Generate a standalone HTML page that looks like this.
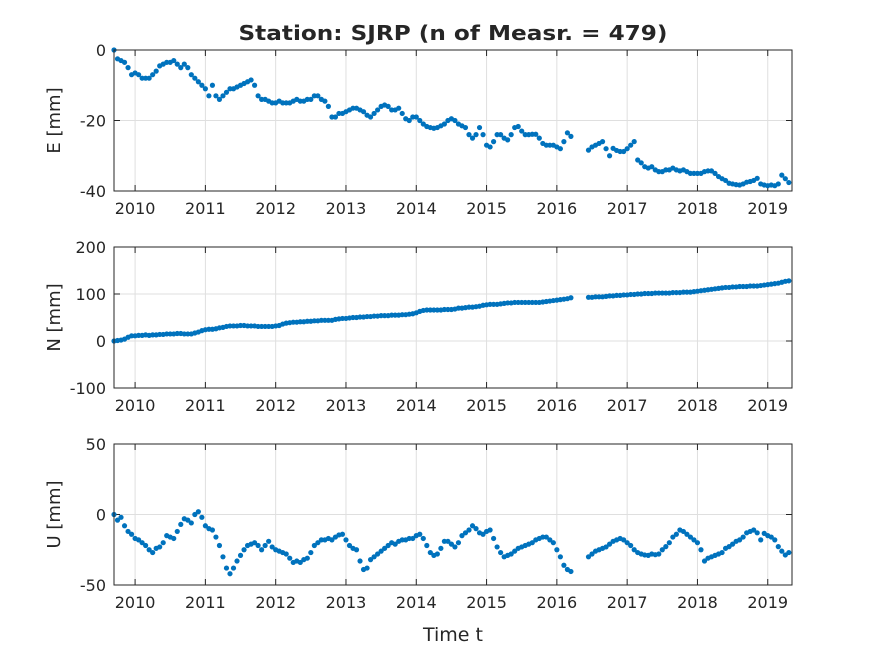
<!DOCTYPE html>
<html><head><meta charset="utf-8"><style>
body{margin:0;background:#fff}
svg text{font-family:"DejaVu Sans","Liberation Sans",sans-serif;fill:#262626}
</style></head><body>
<svg id="c" width="875" height="656" xmlns="http://www.w3.org/2000/svg">
<rect width="875" height="656" fill="#fff"/>
<text x="453" y="40" text-anchor="middle" font-size="20" font-weight="bold" fill="#000" textLength="429" lengthAdjust="spacingAndGlyphs">Station: SJRP (n of Measr. = 479)</text>
<text x="453" y="641" text-anchor="middle" font-size="19">Time t</text>
</svg>
<script>
const t1 = [2009.70,2009.75,2009.80,2009.85,2009.90,2009.95,2010.00,2010.05,2010.10,2010.15,
2010.20,2010.25,2010.30,2010.35,2010.40,2010.45,2010.50,2010.55,2010.60,2010.65,
2010.70,2010.75,2010.80,2010.85,2010.90,2010.95,2011.00,2011.05,2011.10,2011.15,
2011.20,2011.25,2011.30,2011.35,2011.40,2011.45,2011.50,2011.55,2011.60,2011.65,
2011.70,2011.75,2011.80,2011.85,2011.90,2011.95,2012.00,2012.05,2012.10,2012.15,
2012.20,2012.25,2012.30,2012.35,2012.40,2012.45,2012.50,2012.55,2012.60,2012.65,
2012.70,2012.75,2012.80,2012.85,2012.90,2012.95,2013.00,2013.05,2013.10,2013.15,
2013.20,2013.25,2013.30,2013.35,2013.40,2013.45,2013.50,2013.55,2013.60,2013.65,
2013.70,2013.75,2013.80,2013.85,2013.90,2013.95,2014.00,2014.05,2014.10,2014.15,
2014.20,2014.25,2014.30,2014.35,2014.40,2014.45,2014.50,2014.55,2014.60,2014.65,
2014.70,2014.75,2014.80,2014.85,2014.90,2014.95,2015.00,2015.05,2015.10,2015.15,
2015.20,2015.25,2015.30,2015.35,2015.40,2015.45,2015.50,2015.55,2015.60,2015.65,
2015.70,2015.75,2015.80,2015.85,2015.90,2015.95,2016.00,2016.05,2016.10,2016.15,
2016.20,
2016.45,2016.50,2016.55,2016.60,2016.65,2016.70,2016.75,2016.80,2016.85,2016.90,
2016.95,2017.00,2017.05,2017.10,2017.15,2017.20,2017.25,2017.30,2017.35,2017.40,
2017.45,2017.50,2017.55,2017.60,2017.65,2017.70,2017.75,2017.80,2017.85,2017.90,
2017.95,2018.00,2018.05,2018.10,2018.15,2018.20,2018.25,2018.30,2018.35,2018.40,
2018.45,2018.50,2018.55,2018.60,2018.65,2018.70,2018.75,2018.80,2018.85,2018.90,
2018.95,2019.00,2019.05,2019.10,2019.15,2019.20,2019.25,2019.30];
const eVals = [0,-2.5,-3,-3.5,-5,-7,-6.5,-7,-8,-8,
-8,-7,-6,-4.5,-4,-3.5,-3.5,-3,-4,-5,
-4,-5,-7,-8,-9,-10,-11,-13,-10,-13,
-14,-13,-12,-11,-11,-10.5,-10,-9.5,-9,-8.5,
-10,-13,-14,-14,-14.5,-15,-15,-14.5,-15,-15,
-15,-14.5,-14,-14.5,-14.5,-14,-14,-13,-13,-14,
-14.5,-16,-19,-19,-18,-18,-17.5,-17,-16.5,-16.5,
-17,-17.5,-18.5,-19,-18,-17,-16,-15.6,-16,-17,
-17,-16.5,-18,-19.5,-20,-19,-19,-20,-21,-21.7,
-22,-22.2,-22,-21.5,-21,-20,-19.5,-20,-21,-21.5,
-22,-24,-25,-24,-22,-24,-27,-27.5,-26,-24,
-24,-25,-25.5,-24,-22,-21.7,-23,-24,-24,-23.9,
-23.9,-25,-26.5,-27,-27,-27,-27.5,-28,-26,-23.5,
-24.5,
-28.4,-27.5,-27,-26.5,-26,-28,-30,-27.9,-28.5,-28.8,
-28.8,-28,-27,-26,-31.2,-32,-33.1,-33.5,-33.1,-34,
-34.5,-34.5,-34,-34,-33.5,-34,-34.3,-34,-34.5,-35,
-35,-35,-35,-34.5,-34.3,-34.3,-35,-35.9,-36.5,-37,
-37.8,-38,-38.2,-38.3,-38,-37.5,-37.3,-37,-36.4,-38,
-38.3,-38.5,-38.3,-38.5,-38,-35.5,-36.5,-37.6];
const nVals = [0,1,2,4,8,11,11,12,12,13,
12,13,13,14,14,15,15,15,16,16,
15,15,15,17,19,22,24,25,25,26,
28,29,31,32,32,32,33,33,32,32,
32,31,31,31,31,31,32,33,36,38,
39,40,40,41,41,42,42,43,43,44,
44,44,44,46,47,48,48,49,50,50,
51,51,52,52,53,53,54,54,54,55,
55,55,56,56,57,58,60,63,65,66,
66,66,66,66,67,67,67,68,70,70,
71,72,72,73,74,76,77,78,78,78,
79,80,81,81,82,82,82,82,82,82,
82,82,83,84,85,86,87,88,89,90,
92,
93,93,94,94,94,95,96,96,97,97,
98,98,99,99,100,100,101,101,101,102,
102,102,102,102,103,103,103,104,104,104,
105,106,107,108,109,110,111,112,113,114,
114,115,115,116,116,116,117,117,117,118,
119,120,121,122,123,125,127,128];
const uVals = [0,-4,-2,-8,-12,-14,-17,-18,-20,-22,
-25,-27,-24,-23,-20,-15,-16,-17,-12,-7,
-3,-4,-6,0,2,-2,-8,-10,-11,-16,
-22,-30,-38,-42,-38,-33,-29,-25,-22,-21,
-20,-22,-25,-22,-19,-23,-25,-26,-27,-28,
-31,-34,-33,-34,-32,-31,-27,-22,-20,-18,
-18,-17,-18,-16,-14.5,-14,-18,-22,-24,-25,
-33,-39,-38,-32,-30,-28,-26,-24,-22,-20,
-21,-19,-18,-18,-17,-17,-15,-14,-17,-22,
-27,-29,-28,-24,-19,-19,-21,-23,-20,-15,
-13,-11,-8,-10,-13,-14,-12,-11,-17,-23,
-27,-30,-29,-28,-26,-24,-23,-22,-21,-20,
-18,-17,-16,-16,-18,-20,-25,-30,-36,-39,
-40.4,
-30,-28,-26,-25,-24,-23,-21,-19,-18,-17,
-18,-20,-22,-25,-27,-28,-28.7,-29,-28,-28.5,
-28,-25,-22.8,-20,-16,-14,-11,-12,-14,-16,
-18,-20,-25,-33,-31,-30,-29,-28,-27,-24,
-22.8,-21,-19,-18,-16,-13,-12,-11,-13,-18,
-13.4,-15,-16,-18,-22.8,-26,-28.7,-27];
const xTicks = [2010,2011,2012,2013,2014,2015,2016,2017,2018,2019];
const eTicks = [0,-20,-40];
const nTicks = [200,100,0,-100];
const uTicks = [50,0,-50];

const svg = document.getElementById('c');
const NS = 'http://www.w3.org/2000/svg';
const X0 = 114, X1 = 792;
const xMin = 2009.70, xMax = 2019.345;
function xs(t){ return X0 + (t - xMin) / (xMax - xMin) * (X1 - X0); }
function mk(tag, attrs, parent){ const e = document.createElementNS(NS, tag); for (const k in attrs) e.setAttribute(k, attrs[k]); (parent||svg).appendChild(e); return e; }

const panels = [
  {name:'east', label:'E [mm]', vals:eVals, ticks:eTicks, ymax:0, ymin:-40, top:50, bot:191},
  {name:'north', label:'N [mm]', vals:nVals, ticks:nTicks, ymax:200, ymin:-100, top:247, bot:388},
  {name:'up', label:'U [mm]', vals:uVals, ticks:uTicks, ymax:50, ymin:-50, top:444, bot:585}
];
panels.forEach(p => {
  const g = mk('g', {});
  
  
  const ys = v => p.top + (p.ymax - v) / (p.ymax - p.ymin) * (p.bot - p.top);
  mk('rect', {x:X0, y:p.top, width:X1-X0, height:p.bot-p.top, fill:'#fff'}, g);
  xTicks.forEach(tk => {
    const x = xs(tk);
    mk('line', {x1:x, x2:x, y1:p.top, y2:p.bot, stroke:'#dfdfdf', 'stroke-width':1}, g);
    mk('line', {x1:x, x2:x, y1:p.bot, y2:p.bot-6, stroke:'#262626', 'stroke-width':1}, g);
    mk('line', {x1:x, x2:x, y1:p.top, y2:p.top+6, stroke:'#262626', 'stroke-width':1}, g);
    const tx = mk('text', {x:x, y:p.bot+23, 'text-anchor':'middle', 'font-size':16}, g);
    tx.textContent = tk;
    
    
  });
  p.ticks.forEach(tk => {
    const y = ys(tk);
    mk('line', {x1:X0, x2:X1, y1:y, y2:y, stroke:'#dfdfdf', 'stroke-width':1}, g);
    mk('line', {x1:X0, x2:X0+6, y1:y, y2:y, stroke:'#262626', 'stroke-width':1}, g);
    mk('line', {x1:X1, x2:X1-6, y1:y, y2:y, stroke:'#262626', 'stroke-width':1}, g);
    const tx = mk('text', {x:X0-8, y:y+6, 'text-anchor':'end', 'font-size':16}, g);
    tx.textContent = tk;
    
    
  });
  const yl = mk('text', {x:0, y:0, 'text-anchor':'middle', 'font-size':18, transform:'translate(60,' + ((p.top+p.bot)/2) + ') rotate(-90)'}, g);
  yl.textContent = p.label;
  
  
  p.vals.forEach((v, i) => {
    const c = mk('circle', {cx:xs(t1[i]), cy:ys(v), r:2.6, fill:'#0072BD'}, g);
    
    
  });
  mk('rect', {x:X0, y:p.top, width:X1-X0, height:p.bot-p.top, fill:'none', stroke:'#262626', 'stroke-width':1}, g);
});
</script>
</body></html>
